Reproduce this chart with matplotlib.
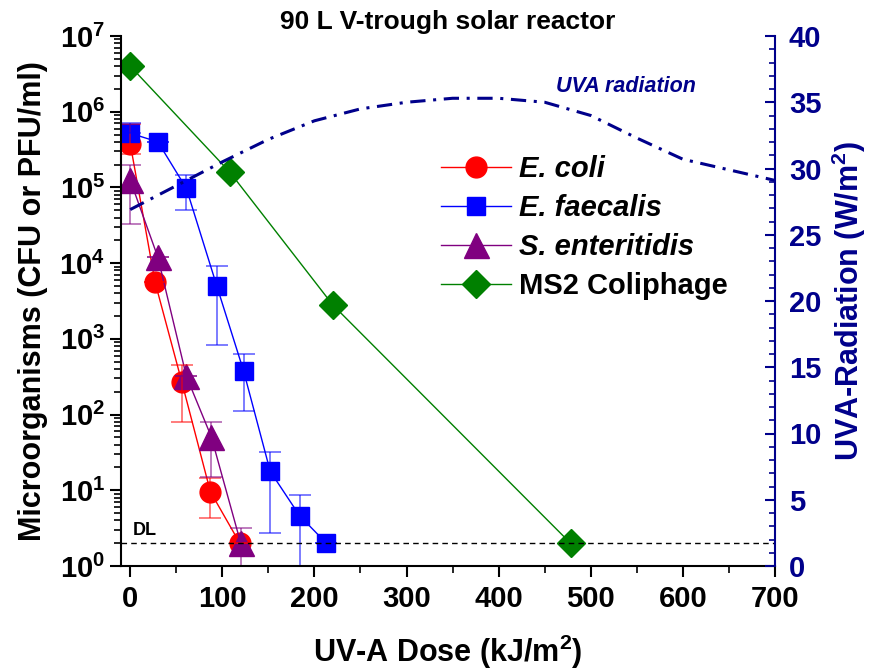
import numpy as np
import matplotlib
matplotlib.use('Agg')
import matplotlib.pyplot as plt
from matplotlib.ticker import LogLocator, LogFormatterMathtext, MultipleLocator, NullFormatter

plt.rcParams['font.family'] = ['Liberation Sans', 'DejaVu Sans']
plt.rcParams['font.weight'] = 'bold'
plt.rcParams['mathtext.fontset'] = 'custom'
plt.rcParams['mathtext.rm'] = 'Liberation Sans:bold'
plt.rcParams['mathtext.bf'] = 'Liberation Sans:bold'
plt.rcParams['mathtext.default'] = 'bf'

# E. coli
ecoli_dose = [0, 27, 56, 87, 119]
ecoli_val = [3.8e5, 5.6e3, 270, 9.6, 2]
ecoli_lo = [1.0e5, 0, 190, 5.3, 0]
ecoli_hi = [3.0e5, 0, 180, 5.0, 0]

# E. faecalis
faec_dose = [0, 30, 61, 94, 123, 152, 184, 213]
faec_val = [5.2e5, 4.0e5, 9.7e4, 5.0e3, 380, 17.8, 4.6, 2]
faec_lo = [0, 0, 4.7e4, 4.17e3, 270, 15.1, 4.1, 0]
faec_hi = [1.8e5, 0, 4.8e4, 4.1e3, 250, 14.2, 4.0, 0]

# S. enteritidis
sent_dose = [0, 30, 61, 88, 120]
sent_val = [1.25e5, 1.2e4, 320, 51, 2]
sent_lo = [9.2e4, 0, 0, 36, 1.2]
sent_hi = [7.0e4, 0, 0, 28, 1.2]

# MS2 coliphage
ms2_dose = [0, 108, 220, 478]
ms2_val = [4.0e6, 1.6e5, 2.8e3, 2]

# UVA radiation (right axis)
uva_dose = [0, 50, 100, 150, 200, 250, 300, 350, 400, 450, 500, 550, 600, 650, 700]
uva_val = [26.9, 28.7, 30.5, 32.2, 33.6, 34.5, 35.0, 35.3, 35.3, 35.0, 34.0, 32.3, 30.7, 29.9, 29.1]

detection_limit = 2

fig = plt.figure(figsize=(8.72, 6.72), dpi=100)
ax = fig.add_axes([121 / 872, 1 - 566 / 672, 654 / 872, 530 / 672])

series = [
    ('E. coli', ecoli_dose, ecoli_val, '#ff0000', 'o', 15),
    ('E. faecalis', faec_dose, faec_val, '#0000ff', 's', 13.5),
    ('S. enteritidis', sent_dose, sent_val, '#800080', '^', 18),
    ('MS2 Coliphage', ms2_dose, ms2_val, '#008000', 'D', 14),
]
for name, xs, ys, c, m, ms in series:
    ax.plot(xs, ys, color=c, marker=m, markersize=ms, lw=1, label=name)

# error bars on top of markers
for xs, ys, lo, hi, c in [(ecoli_dose, ecoli_val, ecoli_lo, ecoli_hi, '#ff0000'),
                          (faec_dose, faec_val, faec_lo, faec_hi, '#0000ff'),
                          (sent_dose, sent_val, sent_lo, sent_hi, '#800080')]:
    ax.errorbar(xs, ys, yerr=[lo, hi], fmt='none', ecolor=c, alpha=0.6,
                elinewidth=1.2, capsize=8, capthick=1.2)

ax.axhline(detection_limit, color='black', ls=(0, (4, 3)), lw=1)
ax.text(3, 2.25, 'DL', fontsize=13, fontweight='bold', va='bottom')

ax.set_yscale('log')
ax.set_ylim(1, 1e7)
ax.set_xlim(-10, 700)
ax.xaxis.set_major_locator(MultipleLocator(100))
ax.xaxis.set_minor_locator(MultipleLocator(50))
ax.yaxis.set_major_locator(LogLocator(base=10, numticks=10))
ax.yaxis.set_minor_locator(LogLocator(base=10, subs=np.arange(2, 10), numticks=10))
ax.yaxis.set_major_formatter(LogFormatterMathtext())
ax.yaxis.set_minor_formatter(NullFormatter())
ax.tick_params(axis='both', which='major', direction='out', length=8, width=1.5, labelsize=21)
ax.tick_params(axis='x', which='major', pad=6)
ax.tick_params(axis='both', which='minor', direction='out', length=5, width=1.2)
ax.spines['top'].set_visible(False)
ax.spines['right'].set_visible(False)
for s in ['left', 'bottom']:
    ax.spines[s].set_linewidth(1.5)

ax.set_xlabel('UV-A Dose (kJ/m$^2$)', fontsize=22, fontweight='bold', labelpad=14)
ax.set_ylabel('Microorganisms (CFU or PFU/ml)', fontsize=22, fontweight='bold', labelpad=8)
ax.set_title('90 L V-trough solar reactor', fontsize=19, fontweight='bold', pad=5)

leg = ax.legend(loc='upper left', bbox_to_anchor=(0.49, 0.775), frameon=False,
                fontsize=21, handlelength=2.4, handletextpad=0.25, labelspacing=0.38,
                borderaxespad=0, borderpad=0)
for t in leg.get_texts()[:3]:
    t.set_fontstyle('italic')

# right axis: UVA radiation
navy = '#00008b'
ax2 = ax.twinx()
ax2.plot(uva_dose, uva_val, color=navy, lw=2.2, ls=(0, (5, 2.5, 1, 2.5)))
ax2.set_ylim(0, 40)
ax2.yaxis.set_major_locator(MultipleLocator(5))
ax2.yaxis.set_minor_locator(MultipleLocator(1))
ax2.tick_params(axis='y', which='major', direction='in', length=7, width=1.5,
                colors=navy, labelsize=21, pad=10)
ax2.tick_params(axis='y', which='minor', direction='in', length=4, width=1.2, colors=navy)
ax2.spines['right'].set_color(navy)
ax2.spines['right'].set_linewidth(1.5)
for s in ['top', 'left', 'bottom']:
    ax2.spines[s].set_visible(False)
ax2.set_ylabel('UVA-Radiation (W/m$^2$)', fontsize=22, fontweight='bold', color=navy, labelpad=6)
ax2.text(462, 36.2, 'UVA radiation', fontsize=15.5, fontweight='bold', fontstyle='italic',
         color=navy, va='center')

fig.savefig('out.png', dpi=100)
